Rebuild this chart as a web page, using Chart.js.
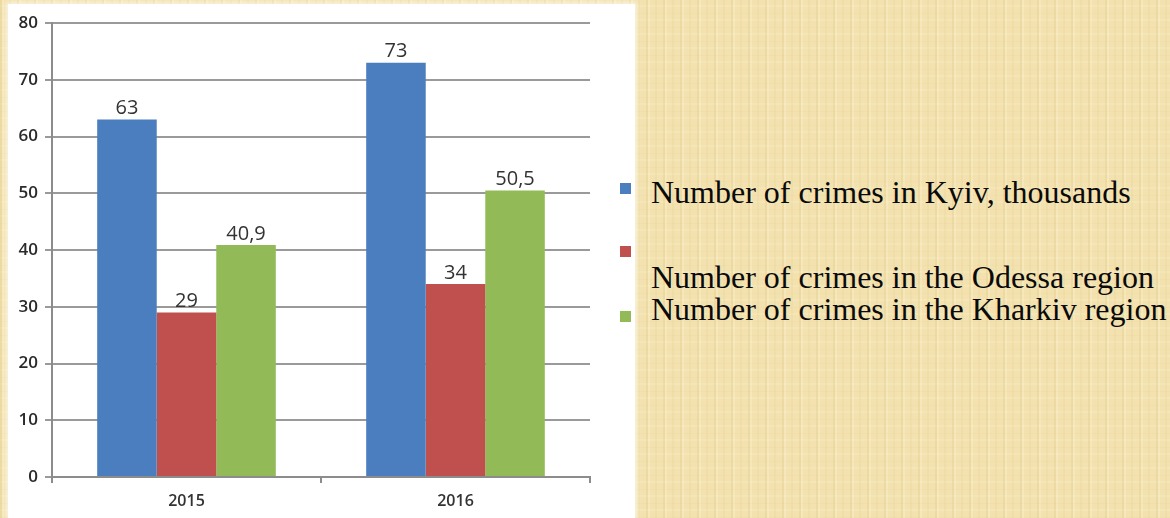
<!DOCTYPE html>
<html>
<head>
<meta charset="utf-8">
<script src="https://cdn.jsdelivr.net/npm/chart.js@4.4.1/dist/chart.umd.min.js"></script>
<style>
  html, body { margin: 0; padding: 0; }
  body {
    width: 1170px; height: 518px; overflow: hidden; position: relative;
    background-color: #f3e2b0;
    background-image:
      repeating-linear-gradient(90deg, rgba(210,190,110,0.22) 0 2px, rgba(255,248,222,0.25) 2px 4px, transparent 4px 9px, rgba(220,200,125,0.16) 9px 11px, transparent 11px 17px),
      repeating-linear-gradient(0deg, rgba(215,195,120,0.10) 0 1px, transparent 1px 7px, rgba(255,246,215,0.18) 7px 9px, transparent 9px 14px);
  }
  #panel {
    position: absolute; left: 8px; top: 4px; width: 627px; height: 514px;
    background: #fff;
    box-shadow: 0 0 5px 2px rgba(255,255,255,0.6);
  }
  #mycanvas { position: absolute; left: 0; top: 0; }
  .lg { position: absolute; font-family: "Liberation Serif", "Times New Roman", serif; font-size: 32px; color: #0a0a0a; white-space: nowrap; line-height: 36px; }
  .mk { position: absolute; width: 11px; height: 11px; }
</style>
</head>
<body>
<div id="panel"><canvas id="mycanvas" width="600" height="514"></canvas></div>
<div id="legend"></div>
<script>
const years = ['2015', '2016'];
const kyiv = [63, 73];
const odessa = [29, 34];
const kharkiv = [40.9, 50.5];
const seriesNames = [
  'Number of crimes in Kyiv, thousands',
  'Number of crimes in the Odessa region',
  'Number of crimes in the Kharkiv region'
];
const colors = ['#4a7ebf', '#c0504d', '#92bb57'];

// legend (html, placed like the original slide)
const markerTops = [183, 246, 311];
const textTops = [174, 259, 291];
const lg = document.getElementById('legend');
seriesNames.forEach(function(name, i) {
  const m = document.createElement('div');
  m.className = 'mk';
  m.style.left = '620px';
  m.style.top = markerTops[i] + 'px';
  m.style.background = colors[i];
  lg.appendChild(m);
  const t = document.createElement('div');
  t.className = 'lg';
  t.style.left = '651px';
  t.style.top = textTops[i] + 'px';
  t.textContent = name;
  lg.appendChild(t);
});

// value labels above bars, comma decimal
const valueLabels = {
  id: 'valueLabels',
  afterDatasetsDraw(chart) {
    const ctx = chart.ctx;
    ctx.save();
    ctx.font = '20px "Open Sans", sans-serif';
    ctx.fillStyle = '#333333';
    ctx.textAlign = 'center';
    ctx.textBaseline = 'bottom';
    chart.data.datasets.forEach(function(ds, i) {
      chart.getDatasetMeta(i).data.forEach(function(bar, j) {
        ctx.fillText(String(ds.data[j]).replace('.', ','), bar.x, bar.y - 1);
      });
    });
    ctx.restore();
  }
};

const ctx = document.getElementById('mycanvas');
new Chart(ctx, {
  type: 'bar',
  data: {
    labels: years,
    datasets: [
      { label: seriesNames[0], data: kyiv, backgroundColor: colors[0] },
      { label: seriesNames[1], data: odessa, backgroundColor: colors[1] },
      { label: seriesNames[2], data: kharkiv, backgroundColor: colors[2] }
    ]
  },
  options: {
    responsive: false,
    animation: false,
    layout: { padding: { top: 19, right: 18, left: 0, bottom: 0 } },
    plugins: { legend: { display: false }, tooltip: { enabled: false } },
    datasets: { bar: { categoryPercentage: 0.664, barPercentage: 1 } },
    scales: {
      x: {
        grid: { offset: true, drawOnChartArea: false, drawTicks: true, tickLength: 6, color: '#8c8c8c', lineWidth: 2 },
        border: { color: '#8c8c8c', width: 2 },
        ticks: { color: '#333333', font: { family: 'Open Sans', size: 16, weight: '600' }, padding: 9 },
        afterFit(s) { s.height = 41; }
      },
      y: {
        min: 0, max: 80,
        ticks: { stepSize: 10, color: '#2a2a2a', font: { family: 'Open Sans', size: 17, weight: '600' }, padding: 7 },
        grid: { color: '#9a9a9a', lineWidth: 2, tickLength: 7 },
        border: { color: '#8c8c8c', width: 2 },
        afterFit(s) { s.width = 44; }
      }
    }
  },
  plugins: [valueLabels]
});
</script>
</body>
</html>
